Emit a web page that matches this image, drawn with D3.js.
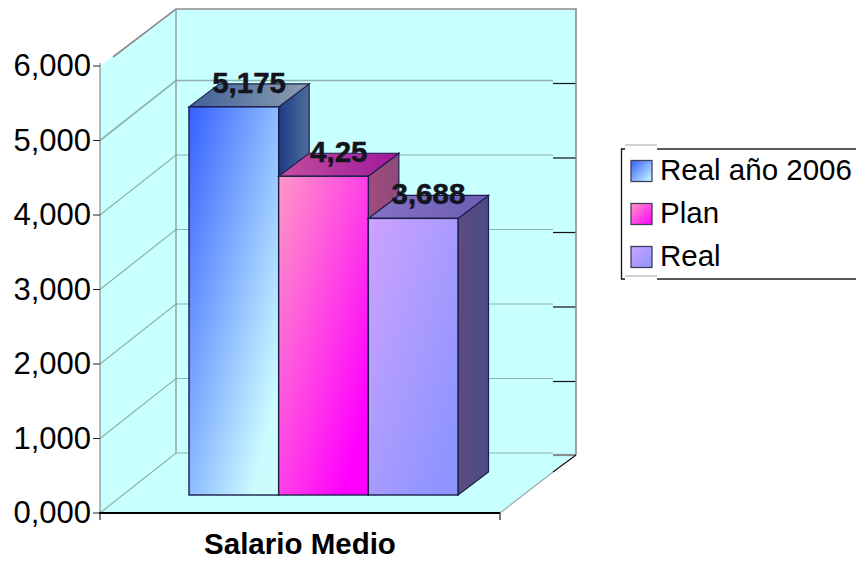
<!DOCTYPE html>
<html>
<head>
<meta charset="utf-8">
<script src="https://cdn.jsdelivr.net/npm/d3@7"></script>
<style>
  html, body { margin: 0; padding: 0; background: #fff; }
  svg { display: block; }
  text { font-family: "Liberation Sans", Arial, sans-serif; fill: #000; }
</style>
</head>
<body>
<svg id="chart" width="856" height="562"></svg>
<script>
// Values and labels
const category = "Salario Medio";
const seriesNames = ["Real año 2006", "Plan", "Real"];
const seriesValues = [5.175, 4.25, 3.688];
const valueLabels = ["5,175", "4,25", "3,688"];
const tickValues = [0, 1, 2, 3, 4, 5, 6];
const tickLabels = ["0,000", "1,000", "2,000", "3,000", "4,000", "5,000", "6,000"];

// Gradient stops per series: front face, top face, side face
const frontStops = [["#3560ff", "#cdfcff"], ["#ff98c4", "#ff00ff"], ["#cda2ff", "#8f95ff"]];
const topStops = [["#3f6098", "#8d9fb0"], ["#c24f9e", "#a0189c"], ["#8472c4", "#6c5cb4"]];
const sideStops = [["#1c3a86", "#4f6e9c"], ["#a24a7e", "#8e4a78"], ["#5e4a80", "#4a4c86"]];

const svg = d3.select("#chart");
const defs = svg.append("defs");

function gradient(id, stops, x2, y2) {
  const g = defs.append("linearGradient").attr("id", id)
    .attr("x1", 0).attr("y1", 0).attr("x2", x2).attr("y2", y2);
  g.append("stop").attr("offset", "0%").attr("stop-color", stops[0]);
  g.append("stop").attr("offset", "100%").attr("stop-color", stops[1]);
}
seriesNames.forEach((_, i) => {
  gradient("front" + i, frontStops[i], 0.86, 0.86);
  gradient("swatch" + i, frontStops[i], 1, 1);
  gradient("top" + i, topStops[i], 1, 0);
  gradient("side" + i, sideStops[i], 1, 0);
});

// Projection: front plane of the box plus a depth offset to the back wall
const wallDx = 76, wallDy = -60;
const barDx = 30.5, barDy = -23;
const x = d3.scaleLinear().domain([0, 1]).range([100, 500]);
const y = d3.scaleLinear().domain([0, 6]).range([513, 66]);
const barBand = d3.scaleBand().domain(seriesNames).range([189, 458]);
const barY = d3.scaleLinear().domain([0, 6]).range([495, 45]);

const poly = pts => pts.map(p => p.join(",")).join(" ");
const wallColor = "#c8ffff";
const gridColor = "#8fb0b0";
const edgeColor = "#8c8c8c";

// The back wall's top edge sits slightly below the projected 6,000 line
const x0 = x(0), x1 = x(1), y0 = y(0), yTop = y(6), backTop = yTop + wallDy + 3;

// Walls and floor
svg.append("polygon").attr("fill", wallColor)
  .attr("points", poly([[x0 + wallDx, backTop], [x1 + wallDx, backTop], [x1 + wallDx, y0 + wallDy], [x0 + wallDx, y0 + wallDy]]));
svg.append("polygon").attr("fill", wallColor)
  .attr("points", poly([[x0, y0], [x0, yTop], [x0 + wallDx, backTop], [x0 + wallDx, y0 + wallDy]]));
svg.append("polygon").attr("fill", wallColor)
  .attr("points", poly([[x0, y0], [x1, y0], [x1 + wallDx, y0 + wallDy], [x0 + wallDx, y0 + wallDy]]));

// Gridlines across both walls, and the short dark ticks beside the back wall
const gridEndX = x1 + wallDx - 23;
const grid = svg.append("g");
tickValues.slice(0, -1).forEach(v => {
  grid.append("path").attr("fill", "none").attr("stroke", gridColor).attr("stroke-width", v === 5 ? 1.6 : 1.2)
    .attr("d", d3.line()([[x0, y(v)], [x0 + wallDx, y(v) + wallDy], [gridEndX, y(v) + wallDy]]));
  if (v > 0) {
    grid.append("line").attr("stroke", "#111").attr("stroke-width", 1.2)
      .attr("x1", gridEndX).attr("x2", x1 + wallDx)
      .attr("y1", y(v) + wallDy + 3).attr("y2", y(v) + wallDy + 3);
  }
});
grid.append("line").attr("stroke", edgeColor).attr("stroke-width", 2.2)
  .attr("x1", gridEndX).attr("x2", x1 + wallDx)
  .attr("y1", y0 + wallDy + 2).attr("y2", y0 + wallDy + 2);

// Box outline
const outline = svg.append("g").attr("fill", "none").attr("stroke", edgeColor);
outline.append("path").attr("stroke-width", 1.6)
  .attr("d", d3.line()([[x0 + 13, yTop - 9], [x0 + wallDx, backTop], [x1 + wallDx, backTop], [x1 + wallDx, y0 + wallDy + 2]]));
outline.append("line").attr("stroke", "#8f9f9f").attr("stroke-width", 1.4)
  .attr("x1", x0 + wallDx).attr("x2", x0 + wallDx).attr("y1", backTop).attr("y2", y0 + wallDy);
outline.append("line").attr("stroke", "#8f9f9f").attr("stroke-width", 1.4)
  .attr("x1", x0).attr("x2", x0).attr("y1", yTop - 3).attr("y2", y0);
outline.append("line").attr("stroke", "#9aa8a8").attr("stroke-width", 1.2)
  .attr("x1", x1).attr("y1", y0).attr("x2", x1 + 53).attr("y2", y0 - 41);
outline.append("line").attr("stroke", "#111").attr("stroke-width", 1.2)
  .attr("x1", x1 + 53).attr("y1", y0 - 41).attr("x2", x1 + wallDx).attr("y2", y0 + wallDy + 2);

// Value axis ticks and labels
const axis = svg.append("g");
tickValues.forEach((v, i) => {
  axis.append("line").attr("stroke", "#222").attr("stroke-width", 1)
    .attr("x1", x0 - 7).attr("x2", x0).attr("y1", y(v)).attr("y2", y(v));
  axis.append("text").attr("x", x0 - 9).attr("y", y(v) + 10)
    .attr("text-anchor", "end").attr("font-size", 31).text(tickLabels[i]);
});

// Category axis
axis.append("line").attr("stroke", "#000").attr("stroke-width", 1.8)
  .attr("x1", x0 - 1).attr("x2", x1).attr("y1", y0).attr("y2", y0);
axis.append("line").attr("stroke", "#222").attr("stroke-width", 1.2)
  .attr("x1", x0).attr("x2", x0).attr("y1", y0).attr("y2", y0 + 7);
axis.append("line").attr("stroke", "#222").attr("stroke-width", 1.2)
  .attr("x1", x1).attr("x2", x1).attr("y1", y0).attr("y2", y0 + 7);
axis.append("text").attr("x", (x0 + x1) / 2).attr("y", 554)
  .attr("text-anchor", "middle").attr("font-size", 29.5).attr("font-weight", "bold").text(category);

// Bars, left to right so each front face covers its neighbour's side
const bars = svg.append("g").selectAll("g").data(seriesNames).join("g");
bars.each(function (name, i) {
  const g = d3.select(this);
  const left = barBand(name), right = left + barBand.bandwidth();
  const top = barY(seriesValues[i]), base = barY(0);
  const stroke = "#1a1f4a";
  g.append("polygon").attr("fill", `url(#side${i})`).attr("stroke", stroke).attr("stroke-width", 1.2)
    .attr("points", poly([[right, top], [right + barDx, top + barDy], [right + barDx, base + barDy], [right, base]]));
  g.append("polygon").attr("fill", `url(#top${i})`).attr("stroke", stroke).attr("stroke-width", 1.2)
    .attr("points", poly([[left, top], [left + barDx, top + barDy], [right + barDx, top + barDy], [right, top]]));
  g.append("rect").attr("fill", `url(#front${i})`).attr("stroke", stroke).attr("stroke-width", 1.4)
    .attr("x", left).attr("y", top).attr("width", right - left).attr("height", base - top);
});

// Value labels sit over the top face, above everything else
svg.append("g").selectAll("text").data(seriesNames).join("text")
  .attr("x", d => barBand(d) + barBand.bandwidth() / 2 + barDx / 2)
  .attr("y", (d, i) => barY(seriesValues[i]) - 14)
  .attr("text-anchor", "middle").attr("font-size", 29.5).attr("font-weight", "bold")
  .style("fill", "#14141c")
  .style("stroke", "#14141c").style("stroke-width", 0.5)
  .text((d, i) => valueLabels[i]);

// Legend frame, running off the right edge
const legend = svg.append("g");
legend.append("path").attr("fill", "none").attr("stroke", "#111").attr("stroke-width", 1.3)
  .attr("d", "M625,149H621.5V279H625");
legend.append("path").attr("fill", "none").attr("stroke", "#222").attr("stroke-width", 1.3)
  .attr("d", "M657,149H856M657,279H856");
legend.append("path").attr("fill", "none").attr("stroke", "#c4c4c4").attr("stroke-width", 1.6)
  .attr("d", "M625,145H657M625,276H657");
const legendRow = d3.scalePoint().domain(seriesNames).range([170.5, 256.5]);
seriesNames.forEach((name, i) => {
  legend.append("rect").attr("x", 631).attr("y", legendRow(name) - 10).attr("width", 21).attr("height", 21)
    .attr("fill", `url(#swatch${i})`).attr("stroke", "#40405a").attr("stroke-width", 1.3);
  legend.append("text").attr("x", 660).attr("y", legendRow(name) + 9)
    .attr("font-size", 29.5).text(name);
});
</script>
</body>
</html>
